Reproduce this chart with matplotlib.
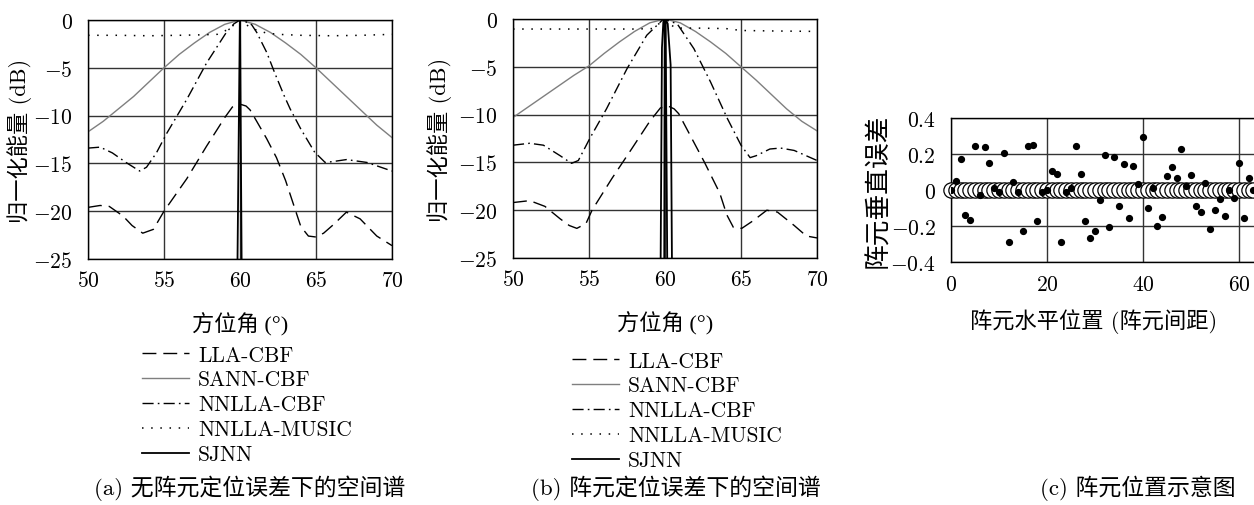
"""Spatial spectra of five beamformers, with and without element position
errors, plus the perturbed element layout used for the second case."""
import matplotlib
matplotlib.use("Agg")
import matplotlib.pyplot as plt
import numpy as np

plt.rcParams["font.family"] = ["cmr10", "Noto Sans CJK SC"]
plt.rcParams["mathtext.fontset"] = "cm"
plt.rcParams["axes.unicode_minus"] = False

FS = 15.5
CJK = ["cmr10", "Noto Sans CJK SC"]
# cmr10 maps the degree sign to a ligature, so that label uses a Times-like face
CJK_DEG = ["Liberation Serif", "Noto Sans CJK SC"]

# ---------------------------------------------------------------------
# (a) spectra without element position error
# ---------------------------------------------------------------------
a_lla_x = [50, 50.8, 51.4, 52.3, 52.9, 53.6, 54.3, 55.0, 56.5, 57.8, 59.0, 59.5,
           59.8, 60.1, 60.4, 60.66, 61.1, 61.75, 62.4, 63.0, 63.5, 64.0, 64.5,
           65.0, 65.5, 66.15, 67.0, 67.9, 69.0, 70]
a_lla_y = [-19.6, -19.4, -19.5, -20.5, -21.5, -22.3, -21.9, -20.0, -16.6, -13.2,
           -10.2, -9.1, -8.85, -8.85, -9.0, -9.4, -10.6, -12.4, -14.4, -16.8,
           -19.2, -21.6, -22.6, -22.7, -22.3, -21.4, -20.1, -20.8, -22.6, -23.6]

a_sann_x = [50, 51, 52, 53, 54, 55, 56, 57, 58, 59, 60, 61, 62, 63, 64, 65, 66,
            67, 68, 69, 70]
a_sann_y = [-11.7, -10.6, -9.3, -8.0, -6.5, -5.0, -3.6, -2.4, -1.3, -0.45, 0,
            -0.45, -1.3, -2.4, -3.6, -5.0, -6.5, -8.0, -9.5, -11.0, -12.3]

a_nncbf_x = [50, 50.8, 51.6, 52.5, 53.4, 53.85, 54.5, 55.2, 56.5, 57.8, 59.1,
             59.6, 60.0, 60.4, 60.77, 61.1, 61.76, 62.3, 62.9, 63.3, 64.0, 64.9,
             65.6, 66.15, 67.0, 68.35, 70]
a_nncbf_y = [-13.4, -13.3, -13.9, -14.9, -15.8, -15.4, -13.9, -11.8, -8.3, -4.5,
             -1.3, -0.4, 0, -0.2, -0.5, -1.3, -3.4, -5.6, -7.9, -9.3, -11.4,
             -13.8, -14.9, -14.8, -14.6, -14.9, -15.8]

a_music_x = [50, 52, 54, 56, 57.5, 58.5, 59.2, 59.7, 60.0, 60.4, 61.0, 61.7, 62.5,
             64, 66, 68, 70]
a_music_y = [-1.6, -1.6, -1.65, -1.6, -1.55, -1.5, -1.0, -0.4, 0, -0.5, -1.0,
             -1.35, -1.5, -1.6, -1.65, -1.6, -1.5]

a_sjnn_x = [59.83, 59.99, 60.0, 60.11]
a_sjnn_y = [-26, 0, 0, -26]

# ---------------------------------------------------------------------
# (b) spectra with element position error
# ---------------------------------------------------------------------
b_lla_x = [50, 51.1, 52.1, 53.1, 53.7, 54.2, 54.8, 55.2, 56.5, 57.8, 59.0, 59.7,
           60.2, 60.6, 60.9, 61.7, 62.6, 63.6, 64.07, 64.5, 65.05, 65.8, 66.7,
           67.4, 68.5, 69.3, 70]
b_lla_y = [-19.2, -19.0, -19.6, -20.9, -21.6, -21.9, -21.4, -20.0, -16.7, -13.6,
           -10.7, -9.3, -9.1, -9.4, -9.9, -12.3, -15.0, -18.2, -20.5, -21.8,
           -21.9, -21.1, -20.0, -20.2, -21.6, -22.7, -22.9]

b_sann_x = [50, 51, 52, 53, 54, 55, 56, 57, 58, 59, 60, 61, 62, 63, 64, 65, 66,
            67, 68, 69, 70]
b_sann_y = [-10.3, -9.2, -8.1, -7.0, -5.9, -4.9, -3.6, -2.4, -1.3, -0.4, 0,
            -0.4, -1.3, -2.4, -3.6, -5.0, -6.4, -7.9, -9.4, -10.7, -11.7]

b_nncbf_x = [50, 51.1, 52.0, 53.1, 53.85, 54.3, 55.05, 56.15, 57.5, 58.8, 59.9,
             60.8, 61.9, 63.0, 64.1, 65.0, 65.6, 66.0, 66.9, 67.6, 68.5, 70]
b_nncbf_y = [-13.2, -13.0, -13.2, -14.3, -15.1, -14.8, -12.5, -9.4, -5.2, -1.7,
             0, -0.5, -3.1, -6.6, -10.4, -13.2, -14.5, -14.3, -13.6, -13.5,
             -13.75, -14.8]

b_music_x = [50, 53, 56, 58, 59.2, 59.6, 60.0, 60.3, 60.7, 62, 64, 65, 67, 70]
b_music_y = [-1.05, -1.05, -1.05, -1.05, -1.0, -0.5, 0, -0.5, -0.95, -0.95,
             -1.0, -1.2, -1.25, -1.3]

b_sjnn_x = [59.71, 59.80, 59.89, 59.98, 59.95, 60.15, 60.04, 60.18, 60.37, 60.46]
b_sjnn_y = [-26, -3, -0.3, 0, -26, -26, 0, -0.5, -4.8, -26]

# ---------------------------------------------------------------------
# (c) element layout: nominal positions and vertical errors
# ---------------------------------------------------------------------
elem_pos = list(range(64))
elem_err = [0.0, 0.05, 0.17, -0.14, -0.165, 0.245, -0.025, 0.24, 0.15, 0.01,
            -0.01, 0.205, -0.29, 0.045, -0.01, -0.23, 0.245, 0.248, -0.17,
            -0.013, 0.0, 0.105, 0.087, -0.288, -0.013, 0.013, 0.244, 0.091,
            -0.17, -0.264, -0.225, -0.056, 0.197, -0.207, 0.185, -0.09, 0.143,
            -0.155, 0.132, 0.032, 0.292, -0.1, 0.013, -0.202, -0.149, 0.08,
            0.13, 0.069, 0.228, 0.02, 0.083, -0.091, -0.12, 0.037, -0.217,
            -0.113, -0.05, -0.147, 0.0, -0.045, 0.15, -0.158, 0.066, 0.0]

LABELS = ["LLA-CBF", "SANN-CBF", "NNLLA-CBF", "NNLLA-MUSIC", "SJNN"]
STYLES = [
    dict(color="black", lw=1.0, dashes=(10, 5)),
    dict(color="#7f7f7f", lw=1.0, ls="-"),
    dict(color="black", lw=1.0, dashes=(8, 3, 1.2, 3)),
    dict(color="black", lw=1.1, dashes=(1, 5)),
    dict(color="black", lw=1.3, ls="-"),
]

W, H = 1254, 506
fig = plt.figure(figsize=(W / 100, H / 100), dpi=100)


def px_axes(left, top, right, bottom):
    return fig.add_axes([left / W, 1 - bottom / H, (right - left) / W,
                         (bottom - top) / H])


def style_grid(ax):
    ax.grid(True, color="#333333", lw=1.0)
    ax.set_axisbelow(True)
    for s in ax.spines.values():
        s.set_color("black")
        s.set_linewidth(1.0)
    ax.tick_params(length=0, labelsize=FS)


def spectrum_panel(ax, series, ylabel_x):
    lines = []
    for (x, y), st in zip(series, STYLES):
        ln, = ax.plot(x, y, **st)
        lines.append(ln)
    ax.set_xlim(50, 70)
    ax.set_ylim(-25, 0)
    xt = [50, 55, 60, 65, 70]
    yt = [-25, -20, -15, -10, -5, 0]
    ax.set_xticks(xt)
    ax.set_xticklabels([f"${v}$" for v in xt])
    ax.set_yticks(yt)
    ax.set_yticklabels([f"${v}$" for v in yt])
    style_grid(ax)
    ax.tick_params(axis="x", pad=8)
    ax.tick_params(axis="y", pad=11)
    ax.set_ylabel("归一化能量 (dB)", family=CJK, fontsize=16)
    ax.yaxis.set_label_coords(ylabel_x, 0.5)
    ax.set_xlabel("方位角 (°)", family=CJK_DEG, fontsize=16)
    ax.xaxis.set_label_coords(0.5, -0.22)
    return lines


def legend_below(ax, lines, left, top):
    ax.legend(lines, LABELS, loc="upper left",
              bbox_to_anchor=(left / W, 1 - top / H),
              bbox_transform=fig.transFigure, frameon=False,
              handlelength=2.2, handletextpad=0.4, labelspacing=0.25,
              borderpad=0, borderaxespad=0, prop={"family": CJK, "size": FS})


ax_a = px_axes(88, 21, 392, 260)
lines_a = spectrum_panel(ax_a, [(a_lla_x, a_lla_y), (a_sann_x, a_sann_y),
                                (a_nncbf_x, a_nncbf_y), (a_music_x, a_music_y),
                                (a_sjnn_x, a_sjnn_y)], -0.184)
legend_below(ax_a, lines_a, 142, 346)

ax_b = px_axes(513, 20, 817, 259)
lines_b = spectrum_panel(ax_b, [(b_lla_x, b_lla_y), (b_sann_x, b_sann_y),
                                (b_nncbf_x, b_nncbf_y), (b_music_x, b_music_y),
                                (b_sjnn_x, b_sjnn_y)], -0.2)
legend_below(ax_b, lines_b, 572, 352)

# element layout panel runs past the right edge of the figure
ax_c = px_axes(951, 119, 951 + 64 * 4.8, 263)
ax_c.plot(elem_pos, np.zeros(len(elem_pos)), ls="none", marker="o", ms=11,
          mfc="white", mec="black", mew=0.9, clip_on=False, zorder=3)
ax_c.plot(elem_pos, elem_err, ls="none", marker="o", ms=4.2, color="black",
          zorder=4)
ax_c.set_xlim(0, 64)
ax_c.set_ylim(-0.4, 0.4)
ax_c.set_xticks([0, 20, 40, 60])
ax_c.set_xticklabels(["$0$", "$20$", "$40$", "$60$"])
ax_c.set_yticks([-0.4, -0.2, 0, 0.2, 0.4])
ax_c.set_yticklabels(["$-0.4$", "$-0.2$", "$0$", "$0.2$", "$0.4$"])
style_grid(ax_c)
ax_c.tick_params(axis="x", pad=9)
ax_c.tick_params(axis="y", pad=11)
ax_c.set_xlabel("阵元水平位置 (阵元间距)", family=CJK, fontsize=16)
ax_c.xaxis.set_label_coords(0.465, -0.32)
ax_c.set_ylabel("阵元垂直误差", family=CJK, fontsize=18.5)
ax_c.yaxis.set_label_coords(-0.198, 0.5)

for cx, txt in [(250, "(a) 无阵元定位误差下的空间谱"),
                (676, "(b) 阵元定位误差下的空间谱"),
                (1138, "(c) 阵元位置示意图")]:
    fig.text(cx / W, 1 - 488 / H, txt, ha="center", va="center",
             family=CJK, fontsize=16.5)

fig.savefig("out.png", dpi=100)
